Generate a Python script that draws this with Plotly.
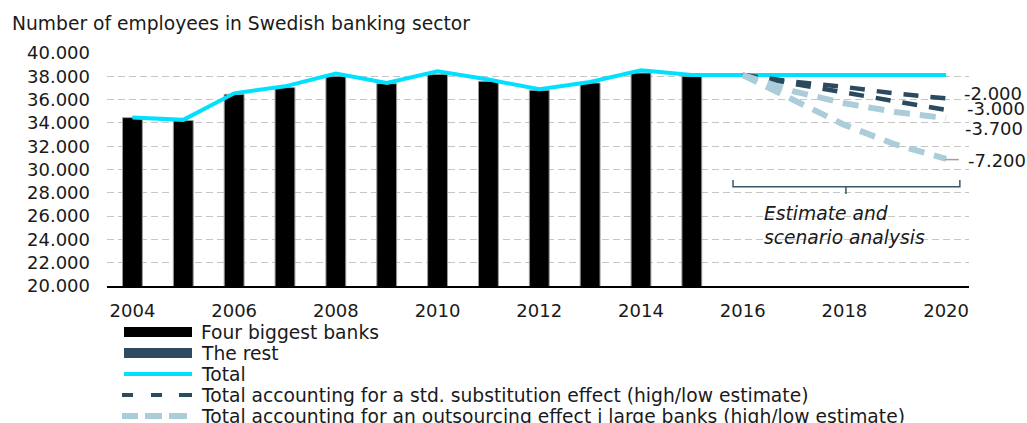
import plotly.graph_objects as go

# ---------------- data ----------------
title = "Number of employees in Swedish banking sector"
years_hist = list(range(2004, 2016))
four_biggest = [34450, 34200, 36450, 37030, 38000, 37370, 38170, 37570, 36800, 37430, 38280, 38000]
years_total = list(range(2004, 2021))
total = [34460, 34260, 36540, 37140, 38230, 37430, 38430, 37720, 36890, 37510, 38510,
         38110, 38110, 38110, 38110, 38110, 38110]
years_proj = [2016, 2017, 2018, 2019, 2020]
std_high = [38110, 37540, 37090, 36520, 36100]
std_low = [38110, 37370, 36600, 35800, 35110]
out_high = [38110, 36710, 35690, 34940, 34410]
out_low = [38110, 35930, 33830, 32150, 30910]
end_labels = ["-2.000", "-3.000", "-3.700", "-7.200"]
legend_names = [
    "Four biggest banks",
    "The rest",
    "Total",
    "Total accounting for a std. substitution effect (high/low estimate)",
    "Total accounting for an outsourcing effect i large banks (high/low estimate)",
]
y_ticks = list(range(20000, 40001, 2000))

# ---------------- styles ----------------
FONT = "DejaVu Sans"
TXT_SIZE = 18.7
C_BLACK = "#000000"
C_REST = "#2e4b62"
C_TOTAL = "#00e1ff"
C_STD = "#2a4a60"
C_OUT = "#aacdd9"
C_TEXT = "#1a1a1a"

W, H = 1027, 423
L, R, T, B = 107, 969, 53, 286


def px(x):
    return (x - L) / (R - L)


def py(y):
    return (B - y) / (B - T)


fig = go.Figure()

fig.add_trace(go.Bar(
    x=years_hist, y=four_biggest, base=0, width=0.39,
    marker=dict(color=C_BLACK, line=dict(color="#9a9a9a", width=1)),
    name=legend_names[0], showlegend=False,
))
fig.add_trace(go.Scatter(
    x=years_total, y=total, mode="lines",
    line=dict(color=C_TOTAL, width=4), name=legend_names[2], showlegend=False,
))
for ys in (std_high, std_low):
    fig.add_trace(go.Scatter(
        x=years_proj, y=ys, mode="lines",
        line=dict(color=C_STD, width=4.5, dash="15px,12px"),
        name=legend_names[3], showlegend=False,
    ))
for ys in (out_high, out_low):
    fig.add_trace(go.Scatter(
        x=years_proj, y=ys, mode="lines",
        line=dict(color=C_OUT, width=6, dash="16px,10px"),
        name=legend_names[4], showlegend=False,
    ))

shapes = []
annotations = []

# end-of-line labels
label_y = [36540, 35260, 33540, 30800]
label_x = [2020.32, 2020.37, 2020.34, 2020.40]
for txt, lx, ly in zip(end_labels, label_x, label_y):
    annotations.append(dict(x=lx, y=ly, xref="x", yref="y", text=txt, showarrow=False,
                            xanchor="left", yanchor="middle",
                            font=dict(family=FONT, size=18, color=C_TEXT)))
# leader line for -7.200
shapes.append(dict(type="line", xref="x", yref="y", x0=2019.98, x1=2020.25,
                   y0=30850, y1=30850, line=dict(color="#a0a0a0", width=1.5)))

# bracket
shapes.append(dict(type="path", xref="x", yref="y",
                   path="M 2015.81 29090 L 2015.81 28510 L 2020.27 28510 L 2020.27 29090 "
                        "M 2018.03 28510 L 2018.03 27890",
                   line=dict(color="#3b5668", width=1.5)))
annotations.append(dict(x=px(762), y=py(225), xref="paper", yref="paper",
                        text="<i>Estimate and<br>scenario analysis</i>", showarrow=False,
                        xanchor="left", yanchor="middle", align="left",
                        font=dict(family=FONT, size=TXT_SIZE, color=C_TEXT)))

# custom legend
row_y = [332, 353, 374, 395, 416]
sx0, sx1 = 124, 192
for i, (name, ry) in enumerate(zip(legend_names, row_y)):
    if i in (0, 1):
        shapes.append(dict(type="rect", xref="paper", yref="paper",
                           x0=px(sx0), x1=px(sx1), y0=py(ry - 5), y1=py(ry + 5),
                           fillcolor=C_BLACK if i == 0 else C_REST, line=dict(width=0)))
    elif i == 2:
        shapes.append(dict(type="line", xref="paper", yref="paper",
                           x0=px(sx0), x1=px(sx1), y0=py(ry), y1=py(ry),
                           line=dict(color=C_TOTAL, width=4)))
    elif i == 3:
        for a, b in ((122, 133), (151, 162), (179, 192)):
            shapes.append(dict(type="line", xref="paper", yref="paper",
                               x0=px(a), x1=px(b), y0=py(ry), y1=py(ry),
                               line=dict(color=C_STD, width=4)))
    else:
        for a, b in ((122, 138), (145, 162), (169, 187)):
            shapes.append(dict(type="line", xref="paper", yref="paper",
                               x0=px(a), x1=px(b), y0=py(ry), y1=py(ry),
                               line=dict(color=C_OUT, width=6)))
    annotations.append(dict(x=px(199), y=py(ry), xref="paper", yref="paper", text=name,
                            showarrow=False, xanchor="left", yanchor="middle",
                            font=dict(family=FONT, size=TXT_SIZE, color=C_TEXT)))

fig.update_layout(
    width=W, height=H,
    margin=dict(l=L, r=W - R, t=T, b=H - B, pad=0),
    paper_bgcolor="white", plot_bgcolor="white",
    separators=",.",
    font=dict(family=FONT, size=18, color=C_TEXT),
    title=dict(text=title, xref="container", yref="container", x=12 / W, y=1 - 23 / H,
               xanchor="left", yanchor="middle",
               font=dict(family=FONT, size=TXT_SIZE, color=C_TEXT)),
    showlegend=False,
    barmode="overlay",
    shapes=shapes,
    annotations=annotations,
    xaxis=dict(range=[2003.5, 2020.45], tickmode="array", tickvals=list(range(2004, 2021, 2)),
               ticktext=[str(v) for v in range(2004, 2021, 2)],
               showgrid=False, zeroline=False, showline=True, linecolor="#000000", linewidth=1.5,
               ticks="", ticklabelstandoff=8, tickfont=dict(family=FONT, size=18, color=C_TEXT)),
    yaxis=dict(range=[20000, 40000], tickmode="array", tickvals=y_ticks,
               tickformat=",d", showgrid=True, gridcolor="#c6c6c6", gridwidth=1.2,
               griddash="7px,4px", zeroline=False, showline=False, ticks="",
               ticklabelstandoff=16, tickfont=dict(family=FONT, size=18, color=C_TEXT)),
)

fig.write_html("out.html")
